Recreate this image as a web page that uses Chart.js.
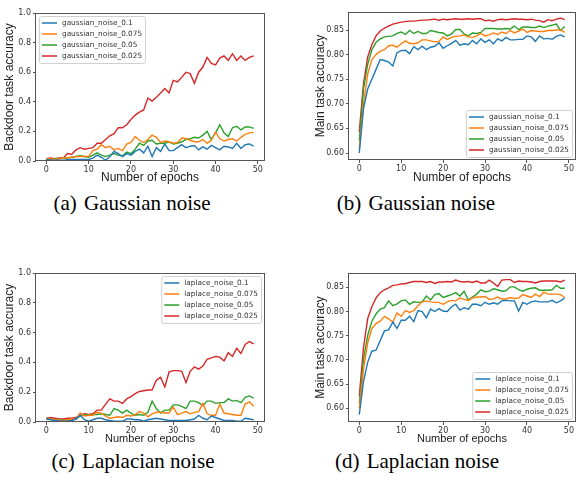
<!DOCTYPE html>
<html>
<head>
<meta charset="utf-8">
<script src="https://cdn.jsdelivr.net/npm/chart.js@4.4.0/dist/chart.umd.min.js"></script>
<style>
  html, body { margin: 0; padding: 0; background: #fff; }
  #figure { position: relative; width: 576px; height: 485px; overflow: hidden; }
  canvas { position: absolute; }
  .caption {
    position: absolute; width: 288px; text-align: center;
    font-family: "Liberation Serif", "Times New Roman", serif;
    font-size: 21px; line-height: 22px; color: #000; white-space: nowrap;
  }
  .caption span { margin-right: 2px; }
</style>
</head>
<body>
<div id="figure">
  <canvas id="chartA" width="290" height="190" style="left:0;top:0"></canvas>
  <canvas id="chartB" width="286" height="190" style="left:290px;top:0"></canvas>
  <canvas id="chartC" width="290" height="205" style="left:0;top:240px"></canvas>
  <canvas id="chartD" width="286" height="205" style="left:290px;top:240px"></canvas>
  <div class="caption" style="left:-12px;top:192px"><span>(a)</span> Gaussian noise</div>
  <div class="caption" style="left:272px;top:192px"><span>(b)</span> Gaussian noise</div>
  <div class="caption" style="left:-11px;top:450px"><span>(c)</span> Laplacian noise</div>
  <div class="caption" style="left:273px;top:450px"><span>(d)</span> Laplacian noise</div>
</div>
<script>
const epochs = [0, 1, 2, 3, 4, 5, 6, 7, 8, 9, 10, 11, 12, 13, 14, 15, 16, 17, 18, 19,
  20, 21, 22, 23, 24, 25, 26, 27, 28, 29, 30, 31, 32, 33, 34, 35, 36, 37, 38, 39,
  40, 41, 42, 43, 44, 45, 46, 47, 48, 49];
const xTicks = [0, 10, 20, 30, 40, 50];
const backdoorTicks = [0, 0.2, 0.4, 0.6, 0.8, 1.0];
const mainTicks = [0.60, 0.65, 0.70, 0.75, 0.80, 0.85];

const gaussianLabels = ['gaussian_noise_0.1', 'gaussian_noise_0.075', 'gaussian_noise_0.05', 'gaussian_noise_0.025'];
const laplaceLabels = ['laplace_noise_0.1', 'laplace_noise_0.075', 'laplace_noise_0.05', 'laplace_noise_0.025'];
const colors = ['#1f77b4', '#ff7f0e', '#2ca02c', '#d62728'];

// (a) gaussian, backdoor accuracy
const gaussBackdoor010 = [0.01, 0.005, 0.005, 0.005, 0.005, 0.008, 0.01, 0.01, 0.01, 0.01, 0.01, 0.02, 0.04, 0.025, 0.005, 0.03, 0.065, 0.05, 0.03, 0.05,
  0.04, 0.065, 0.08, 0.055, 0.1, 0.03, 0.09, 0.065, 0.115, 0.07, 0.07, 0.09, 0.11, 0.09, 0.1, 0.105, 0.075, 0.095, 0.08, 0.105,
  0.09, 0.075, 0.1, 0.095, 0.085, 0.12, 0.085, 0.11, 0.115, 0.1];
const gaussBackdoor0075 = [0.015, 0.015, 0.01, 0.015, 0.02, 0.02, 0.025, 0.03, 0.03, 0.03, 0.03, 0.07, 0.08, 0.11, 0.09, 0.1, 0.075, 0.085, 0.07, 0.115,
  0.125, 0.165, 0.14, 0.125, 0.145, 0.175, 0.16, 0.125, 0.135, 0.13, 0.12, 0.125, 0.155, 0.15, 0.14, 0.13, 0.13, 0.145, 0.12, 0.14,
  0.195, 0.15, 0.135, 0.145, 0.15, 0.135, 0.16, 0.18, 0.19, 0.195];
const gaussBackdoor005 = [0.01, 0.01, 0.015, 0.015, 0.02, 0.02, 0.025, 0.03, 0.035, 0.03, 0.025, 0.04, 0.055, 0.04, 0.03, 0.04, 0.05, 0.04, 0.035, 0.06,
  0.05, 0.08, 0.12, 0.105, 0.135, 0.14, 0.115, 0.12, 0.12, 0.13, 0.115, 0.12, 0.13, 0.145, 0.15, 0.16, 0.155, 0.175, 0.2, 0.145,
  0.19, 0.245, 0.19, 0.165, 0.225, 0.235, 0.21, 0.23, 0.23, 0.22];
const gaussBackdoor0025 = [0.015, 0.02, 0.015, 0.02, 0.02, 0.05, 0.045, 0.075, 0.09, 0.08, 0.085, 0.09, 0.12, 0.12, 0.145, 0.17, 0.185, 0.225, 0.225, 0.245,
  0.28, 0.31, 0.33, 0.345, 0.425, 0.405, 0.43, 0.46, 0.49, 0.46, 0.545, 0.535, 0.565, 0.6, 0.59, 0.525, 0.6, 0.635, 0.7, 0.66,
  0.65, 0.695, 0.71, 0.68, 0.725, 0.68, 0.71, 0.68, 0.7, 0.71];

// (b) gaussian, main accuracy
const gaussMain010 = [0.6, 0.69, 0.73, 0.75, 0.77, 0.79, 0.788, 0.785, 0.777, 0.804, 0.808, 0.809, 0.802, 0.816, 0.81, 0.817, 0.81, 0.815, 0.817, 0.824,
  0.813, 0.818, 0.823, 0.829, 0.819, 0.822, 0.82, 0.829, 0.822, 0.832, 0.825, 0.83, 0.822, 0.832, 0.828, 0.835, 0.83, 0.83, 0.831, 0.831,
  0.838, 0.836, 0.827, 0.838, 0.832, 0.833, 0.831, 0.837, 0.84, 0.836];
const gaussMain0075 = [0.608, 0.7, 0.76, 0.79, 0.8, 0.807, 0.81, 0.818, 0.819, 0.815, 0.822, 0.828, 0.823, 0.822, 0.824, 0.83, 0.83, 0.828, 0.826, 0.827,
  0.836, 0.831, 0.835, 0.837, 0.838, 0.84, 0.836, 0.835, 0.838, 0.843, 0.838, 0.84, 0.844, 0.841, 0.846, 0.843, 0.849, 0.844, 0.848, 0.852,
  0.845, 0.849, 0.848, 0.847, 0.847, 0.849, 0.849, 0.85, 0.85, 0.845];
const gaussMain005 = [0.625, 0.73, 0.78, 0.81, 0.825, 0.832, 0.836, 0.837, 0.838, 0.843, 0.846, 0.841, 0.849, 0.843, 0.847, 0.843, 0.843, 0.849, 0.847, 0.845,
  0.844, 0.838, 0.842, 0.851, 0.851, 0.842, 0.838, 0.844, 0.843, 0.845, 0.853, 0.853, 0.853, 0.852, 0.852, 0.853, 0.852, 0.858, 0.851, 0.856,
  0.856, 0.855, 0.855, 0.858, 0.855, 0.858, 0.86, 0.862, 0.849, 0.857];
const gaussMain0025 = [0.643, 0.74, 0.795, 0.82, 0.838, 0.848, 0.854, 0.858, 0.862, 0.864, 0.866, 0.867, 0.868, 0.868, 0.869, 0.87, 0.87, 0.871, 0.872, 0.87,
  0.872, 0.871, 0.872, 0.873, 0.872, 0.872, 0.873, 0.872, 0.873, 0.873, 0.869, 0.87, 0.868, 0.871, 0.872, 0.871, 0.872, 0.873, 0.872, 0.872,
  0.871, 0.872, 0.87, 0.869, 0.866, 0.871, 0.869, 0.872, 0.874, 0.871];

// (c) laplace, backdoor accuracy
const lapBackdoor010 = [0.02, 0.015, 0.01, 0.005, 0.005, 0.005, 0.01, 0.02, 0.045, 0.015, 0.005, 0.015, 0.025, 0.025, 0.015, 0.01, 0.005, 0.005, 0.005, 0.02,
  0.02, 0.015, 0.015, 0.005, 0.015, 0.02, 0.025, 0.02, 0.015, 0.01, 0.01, 0.01, 0.01, 0.01, 0.015, 0.02, 0.045, 0.025, 0.015, 0.04,
  0.03, 0.02, 0.01, 0.01, 0.01, 0.005, 0.005, 0.025, 0.02, 0.015];
const lapBackdoor0075 = [0.02, 0.02, 0.015, 0.01, 0.01, 0.015, 0.02, 0.02, 0.06, 0.04, 0.045, 0.045, 0.065, 0.06, 0.04, 0.025, 0.03, 0.035, 0.03, 0.045,
  0.04, 0.05, 0.07, 0.06, 0.035, 0.055, 0.065, 0.065, 0.06, 0.06, 0.1, 0.05, 0.06, 0.07, 0.055, 0.065, 0.07, 0.125, 0.055, 0.045,
  0.045, 0.12, 0.06, 0.055, 0.05, 0.045, 0.045, 0.12, 0.135, 0.105];
const lapBackdoor005 = [0.025, 0.02, 0.015, 0.01, 0.015, 0.01, 0.015, 0.02, 0.04, 0.05, 0.045, 0.05, 0.05, 0.055, 0.05, 0.045, 0.09, 0.08, 0.06, 0.08,
  0.06, 0.045, 0.05, 0.045, 0.065, 0.14, 0.09, 0.06, 0.08, 0.08, 0.115, 0.115, 0.105, 0.09, 0.14, 0.14, 0.13, 0.11, 0.14, 0.14,
  0.125, 0.13, 0.13, 0.155, 0.14, 0.145, 0.13, 0.165, 0.175, 0.16];
const lapBackdoor0025 = [0.025, 0.03, 0.025, 0.02, 0.02, 0.025, 0.025, 0.03, 0.045, 0.055, 0.05, 0.055, 0.08, 0.08, 0.12, 0.155, 0.14, 0.14, 0.125, 0.155,
  0.17, 0.19, 0.205, 0.21, 0.215, 0.215, 0.28, 0.3, 0.235, 0.335, 0.345, 0.345, 0.34, 0.265, 0.34, 0.37, 0.355, 0.375, 0.42, 0.43,
  0.44, 0.435, 0.41, 0.465, 0.44, 0.495, 0.46, 0.52, 0.54, 0.525];

// (d) laplace, main accuracy
const lapMain010 = [0.587, 0.655, 0.695, 0.718, 0.72, 0.74, 0.76, 0.762, 0.778, 0.765, 0.782, 0.782, 0.79, 0.779, 0.802, 0.8, 0.787, 0.805, 0.8, 0.806,
  0.801, 0.8, 0.81, 0.815, 0.803, 0.808, 0.805, 0.815, 0.815, 0.812, 0.819, 0.815, 0.818, 0.815, 0.822, 0.823, 0.822, 0.822, 0.801, 0.819,
  0.815, 0.82, 0.822, 0.82, 0.82, 0.82, 0.823, 0.818, 0.822, 0.828];
const lapMain0075 = [0.6, 0.68, 0.735, 0.765, 0.775, 0.78, 0.79, 0.785, 0.778, 0.797, 0.79, 0.802, 0.798, 0.802, 0.812, 0.82, 0.822, 0.82, 0.819, 0.819,
  0.815, 0.82, 0.823, 0.822, 0.828, 0.825, 0.823, 0.828, 0.83, 0.83, 0.831, 0.825, 0.826, 0.83, 0.826, 0.826, 0.829, 0.827, 0.828, 0.835,
  0.832, 0.829, 0.836, 0.831, 0.84, 0.836, 0.836, 0.836, 0.835, 0.829];
const lapMain005 = [0.61, 0.7, 0.75, 0.78, 0.795, 0.805, 0.808, 0.822, 0.812, 0.816, 0.822, 0.824, 0.815, 0.82, 0.819, 0.82, 0.832, 0.824, 0.835, 0.837,
  0.829, 0.832, 0.835, 0.839, 0.832, 0.842, 0.824, 0.83, 0.836, 0.845, 0.841, 0.842, 0.847, 0.845, 0.842, 0.843, 0.851, 0.851, 0.845, 0.842,
  0.846, 0.848, 0.849, 0.844, 0.844, 0.844, 0.845, 0.854, 0.848, 0.848];
const lapMain0025 = [0.625, 0.725, 0.785, 0.81, 0.828, 0.839, 0.845, 0.849, 0.854, 0.855, 0.857, 0.858, 0.86, 0.862, 0.862, 0.862, 0.86, 0.862, 0.858, 0.861,
  0.861, 0.862, 0.861, 0.865, 0.862, 0.861, 0.862, 0.86, 0.863, 0.859, 0.859, 0.865, 0.859, 0.852, 0.865, 0.866, 0.866, 0.86, 0.863, 0.862,
  0.862, 0.861, 0.859, 0.862, 0.863, 0.863, 0.863, 0.863, 0.861, 0.865];

Chart.defaults.font.family = '"DejaVu Sans", sans-serif';

// matplotlib style frame round the plot area
const axesBox = {
  id: 'axesBox',
  afterDraw(chart) {
    const a = chart.chartArea;
    const ctx = chart.ctx;
    ctx.save();
    ctx.strokeStyle = '#555';
    ctx.lineWidth = 1;
    ctx.strokeRect(Math.round(a.left) - 0.5, Math.round(a.top) + 0.5,
      Math.round(a.right - a.left) + 1, Math.round(a.bottom - a.top) - 1);
    ctx.restore();
  }
};

// legend drawn inside the axes, like plt.legend()
const boxLegend = {
  id: 'boxLegend',
  afterDatasetsDraw(chart, args, opts) {
    const ctx = chart.ctx;
    const a = chart.chartArea;
    const sets = chart.data.datasets;
    ctx.save();
    ctx.font = '7.3px "DejaVu Sans"';
    const textW = Math.max(...sets.map(d => ctx.measureText(d.label).width));
    const w = 3 + 15 + 5 + textW + 3;
    const h = sets.length * 11 + 3;
    const x = opts.corner.indexOf('left') >= 0 ? a.left + opts.inset : a.right - opts.inset - w;
    const y = opts.corner.indexOf('upper') >= 0 ? a.top + opts.inset : a.bottom - opts.inset - h;
    ctx.fillStyle = 'rgba(255,255,255,0.85)';
    ctx.strokeStyle = '#d0d0d0';
    ctx.lineWidth = 1;
    ctx.beginPath();
    if (ctx.roundRect) ctx.roundRect(x + 0.5, y + 0.5, w, h, 2);
    else ctx.rect(x + 0.5, y + 0.5, w, h);
    ctx.fill();
    ctx.stroke();
    ctx.textBaseline = 'middle';
    ctx.textAlign = 'left';
    sets.forEach((d, i) => {
      const cy = y + 7 + i * 11;
      ctx.strokeStyle = d.borderColor;
      ctx.lineWidth = 1.5;
      ctx.beginPath();
      ctx.moveTo(x + 3, cy);
      ctx.lineTo(x + 18, cy);
      ctx.stroke();
      ctx.fillStyle = '#333';
      ctx.fillText(d.label, x + 23, cy);
    });
    ctx.restore();
  }
};

function makeChart(id, p) {
  const canvas = document.getElementById(id);
  const W = canvas.width;
  const H = canvas.height;
  const axisGrid = { drawOnChartArea: false, color: '#555', tickLength: 3, tickWidth: 1 };
  return new Chart(canvas, {
    type: 'line',
    data: {
      datasets: p.series.map((vals, i) => ({
        label: p.labels[i],
        data: vals.map((v, k) => ({ x: epochs[k], y: v })),
        borderColor: colors[i],
        borderWidth: 1.4,
        pointRadius: 0,
        tension: 0,
        fill: false,
      })),
    },
    options: {
      responsive: false,
      animation: false,
      devicePixelRatio: 1,
      layout: { padding: { left: 0, top: p.area.top, right: W - p.area.right, bottom: 0 } },
      plugins: {
        legend: { display: false },
        tooltip: { enabled: false },
        boxLegend: { corner: p.legendCorner, inset: 3 },
      },
      scales: {
        x: {
          type: 'linear',
          min: -2.45,
          max: 51.45,
          afterBuildTicks: s => { s.ticks = xTicks.map(v => ({ value: v })); },
          afterFit: s => { s.height = H - p.area.bottom; s.paddingLeft = 0; s.paddingRight = 0; },
          grid: axisGrid,
          border: { display: false },
          ticks: { color: '#333', font: { size: 8 }, padding: 1, maxRotation: 0, autoSkip: false },
          title: {
            display: true, text: 'Number of epochs', color: '#222',
            font: { family: '"Liberation Sans", Arial, sans-serif', size: p.xTitleSize, lineHeight: 1 },
            padding: { top: 0, bottom: p.xTitlePad },
          },
        },
        y: {
          min: p.yMin,
          max: p.yMax,
          afterBuildTicks: s => { s.ticks = p.yTicks.map(v => ({ value: v })); },
          afterFit: s => { s.width = p.area.left; s.paddingTop = 0; s.paddingBottom = 0; },
          grid: axisGrid,
          border: { display: false },
          ticks: {
            color: '#333', font: { size: 8 }, padding: 2, autoSkip: false,
            callback: v => v.toFixed(p.yDecimals),
          },
          title: {
            display: true, text: p.yTitle, color: '#222',
            font: { family: '"Liberation Sans", Arial, sans-serif', size: 12, lineHeight: 1 },
            padding: { top: p.yTitlePad, bottom: 0 },
          },
        },
      },
    },
    plugins: [axesBox, boxLegend],
  });
}

makeChart('chartA', {
  labels: gaussianLabels,
  series: [gaussBackdoor010, gaussBackdoor0075, gaussBackdoor005, gaussBackdoor0025],
  yMin: 0, yMax: 1, yTicks: backdoorTicks, yDecimals: 1,
  yTitle: 'Backdoor task accuracy', yTitlePad: 4,
  area: { left: 36, top: 13, right: 264, bottom: 161 },
  xTitleSize: 12, xTitlePad: 6,
  legendCorner: 'upper left',
});

makeChart('chartB', {
  labels: gaussianLabels,
  series: [gaussMain010, gaussMain0075, gaussMain005, gaussMain0025],
  yMin: 0.5858, yMax: 0.8866, yTicks: mainTicks, yDecimals: 2,
  yTitle: 'Main task accuracy', yTitlePad: 25,
  area: { left: 59, top: 12, right: 285, bottom: 160 },
  xTitleSize: 12, xTitlePad: 6,
  legendCorner: 'lower right',
});

makeChart('chartC', {
  labels: laplaceLabels,
  series: [lapBackdoor010, lapBackdoor0075, lapBackdoor005, lapBackdoor0025],
  yMin: 0, yMax: 1, yTicks: backdoorTicks, yDecimals: 1,
  yTitle: 'Backdoor task accuracy', yTitlePad: 4,
  area: { left: 36, top: 33, right: 264, bottom: 182 },
  xTitleSize: 11, xTitlePad: 1,
  legendCorner: 'upper right',
});

makeChart('chartD', {
  labels: laplaceLabels,
  series: [lapMain010, lapMain0075, lapMain005, lapMain0025],
  yMin: 0.5717, yMax: 0.8796, yTicks: mainTicks, yDecimals: 2,
  yTitle: 'Main task accuracy', yTitlePad: 25,
  area: { left: 59, top: 33, right: 285, bottom: 182 },
  xTitleSize: 11, xTitlePad: 1,
  legendCorner: 'lower right',
});
</script>
</body>
</html>
